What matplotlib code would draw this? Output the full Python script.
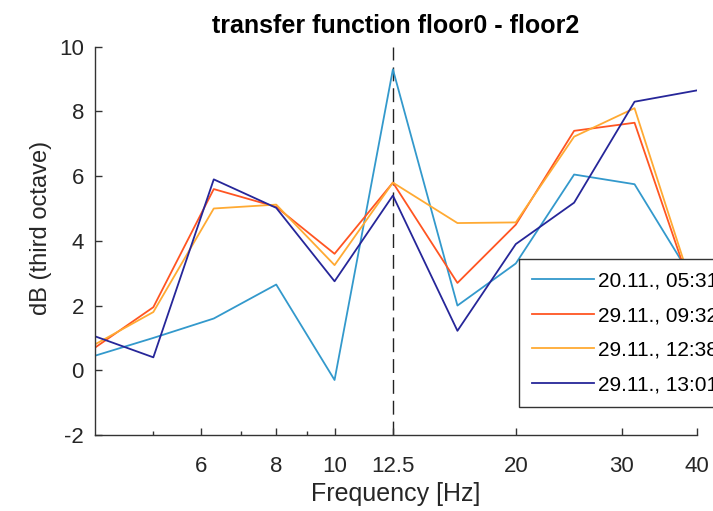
import matplotlib
matplotlib.use("Agg")
import matplotlib.pyplot as plt
from matplotlib.ticker import FixedLocator, NullFormatter

plt.rcParams['font.family'] = ['Liberation Sans', 'DejaVu Sans']
plt.rcParams['axes.unicode_minus'] = False

# third octave band centres
freq = [4, 5, 6.3, 8, 10, 12.5, 16, 20, 25, 31.5, 40]

# transfer function floor0 - floor2 (dB)
tf_2011_0531 = [0.45, 1.0, 1.6, 2.65, -0.3, 9.3, 2.0, 3.3, 6.05, 5.75, 2.6]
tf_2911_0932 = [0.7, 1.95, 5.6, 5.05, 3.6, 5.8, 2.7, 4.5, 7.4, 7.65, 2.0]
tf_2911_1238 = [0.8, 1.8, 5.0, 5.12, 3.25, 5.8, 4.55, 4.57, 7.22, 8.1, 2.1]
tf_2911_1301 = [1.05, 0.4, 5.9, 5.02, 2.75, 5.4, 1.22, 3.9, 5.18, 8.3, 8.65]

labels = ['20.11., 05:31', '29.11., 09:32', '29.11., 12:38', '29.11., 13:01']
colors = ['#3399CC', '#FF5522', '#FFAA33', '#262699']

xticks = [6, 8, 10, 12.5, 20, 30, 40]
xminor = [5, 7, 9]
yticks = [-2, 0, 2, 4, 6, 8, 10]

fig = plt.figure(figsize=(7.13, 5.11), dpi=100)
ax = fig.add_axes([95/713, 1 - 435/511, 602/713, 388.3/511])

series = [tf_2011_0531, tf_2911_0932, tf_2911_1238, tf_2911_1301]
for s, lab, c in zip(series, labels, colors):
    ax.plot(freq, s, color=c, lw=1.3, label=lab)

# mark the 12.5 Hz band
ax.axvline(12.5, color='#222222', lw=1.0, dashes=(10, 5), zorder=1)

ax.set_xscale('log')
ax.set_xlim(4, 40)
ax.set_ylim(-2, 10)
ax.xaxis.set_major_locator(FixedLocator(xticks))
ax.xaxis.set_minor_locator(FixedLocator(xminor))
ax.xaxis.set_minor_formatter(NullFormatter())
ax.set_xticklabels(['6', '8', '10', '12.5', '20', '30', '40'])
ax.set_yticks(yticks)

ax.spines['top'].set_visible(False)
ax.spines['right'].set_visible(False)
for sp in ['left', 'bottom']:
    ax.spines[sp].set_color('#333333')
    ax.spines[sp].set_linewidth(1.0)

ax.tick_params(which='major', direction='in', length=5, width=1.0,
               colors='#333333', labelsize=16, labelcolor='#262626')
ax.tick_params(which='minor', direction='in', length=3, width=1.0, colors='#333333')
ax.tick_params(axis='x', pad=15)
ax.tick_params(axis='y', pad=8)

ax.set_title('transfer function floor0 - floor2', fontsize=18, fontweight='bold', pad=10)
ax.set_xlabel('Frequency [Hz]', fontsize=18, color='#262626')
ax.set_ylabel('dB (third octave)', fontsize=17, color='#262626')
ax.xaxis.set_label_coords(0.5, -0.12)
ax.yaxis.set_label_coords(-0.072, 0.533)

leg = ax.legend(loc='upper left', bbox_to_anchor=(519/713, 1 - 259/511),
                bbox_transform=fig.transFigure, fontsize=15, frameon=True,
                fancybox=False, borderpad=0.6, handlelength=3.0,
                handletextpad=0.2, labelspacing=0.75, borderaxespad=0)
leg.get_frame().set_edgecolor('#333333')
leg.get_frame().set_linewidth(1.0)
leg.get_frame().set_alpha(1)

fig.savefig('out.png', dpi=100)
